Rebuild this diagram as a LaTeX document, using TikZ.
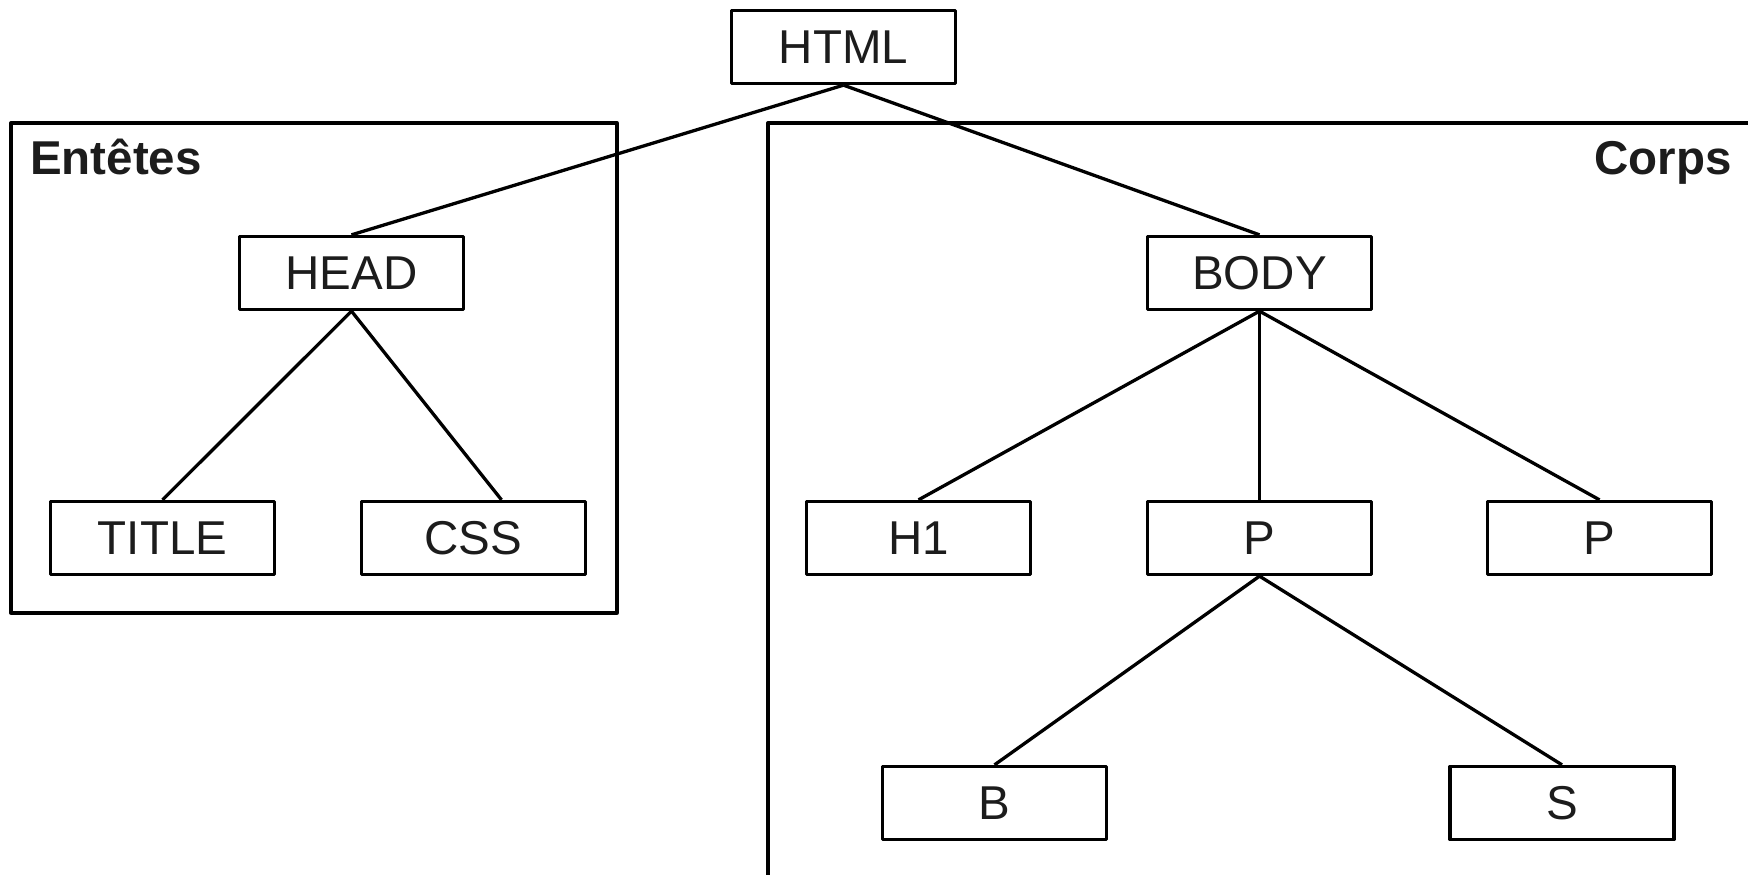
\documentclass[tikz,border=0pt]{standalone}
\usepackage{fontspec}
\setmainfont{Liberation Sans}
\definecolor{txt}{gray}{0.11}
\begin{document}
\begin{tikzpicture}[x=1pt,y=-1pt,line join=round,
  tag/.style={draw=black,line width=3.3pt,minimum width=224pt,minimum height=73pt,inner sep=0pt,
    text=txt,font=\fontsize{47.5}{57}\selectfont},
  grouplabel/.style={inner sep=0pt,text=txt,font=\fontsize{47.5}{57}\selectfont\bfseries},
  link/.style={line width=3.3pt,draw=black},
  frame/.style={line width=3.3pt,draw=black}]
\useasboundingbox (0,0) rectangle (1748,875);
\fill[white] (0,0) rectangle (1748,875);
% group frames
\draw[frame] (11,123) rectangle (617,613);
\draw[frame] (768,890) -- (768,123) -- (1760,123);
\node[grouplabel,anchor=base west] (lblhead) at (30,174) {Entêtes};
\node[grouplabel,anchor=base east] (lblbody) at (1732,174) {Corps};
% nodes
\node[tag] (html) at (843.5,47) {HTML};
\node[tag] (head) at (351.5,273) {HEAD};
\node[tag] (body) at (1259.5,273) {BODY};
\node[tag] (title) at (162.5,538) {TITLE};
\node[tag] (css) at (473.5,538) {CSS};
\node[tag] (h1) at (918.5,538) {H1};
\node[tag] (p1) at (1259.5,538) {P};
\node[tag] (p2) at (1599.5,538) {P};
\node[tag] (b) at (994.5,803) {B};
\node[tag] (s) at (1562,803) {S};
% links
\draw[link] (html.south) -- (head.north);
\draw[link] (html.south) -- (body.north);
\draw[link] (head.south) -- (title.north);
\draw[link] (head.south) -- ([xshift=28pt]css.north);
\draw[link] (body.south) -- (h1.north);
\draw[link] (body.south) -- (p1.north);
\draw[link] (body.south) -- (p2.north);
\draw[link] (p1.south) -- (b.north);
\draw[link] (p1.south) -- (s.north);
\end{tikzpicture}
\end{document}
